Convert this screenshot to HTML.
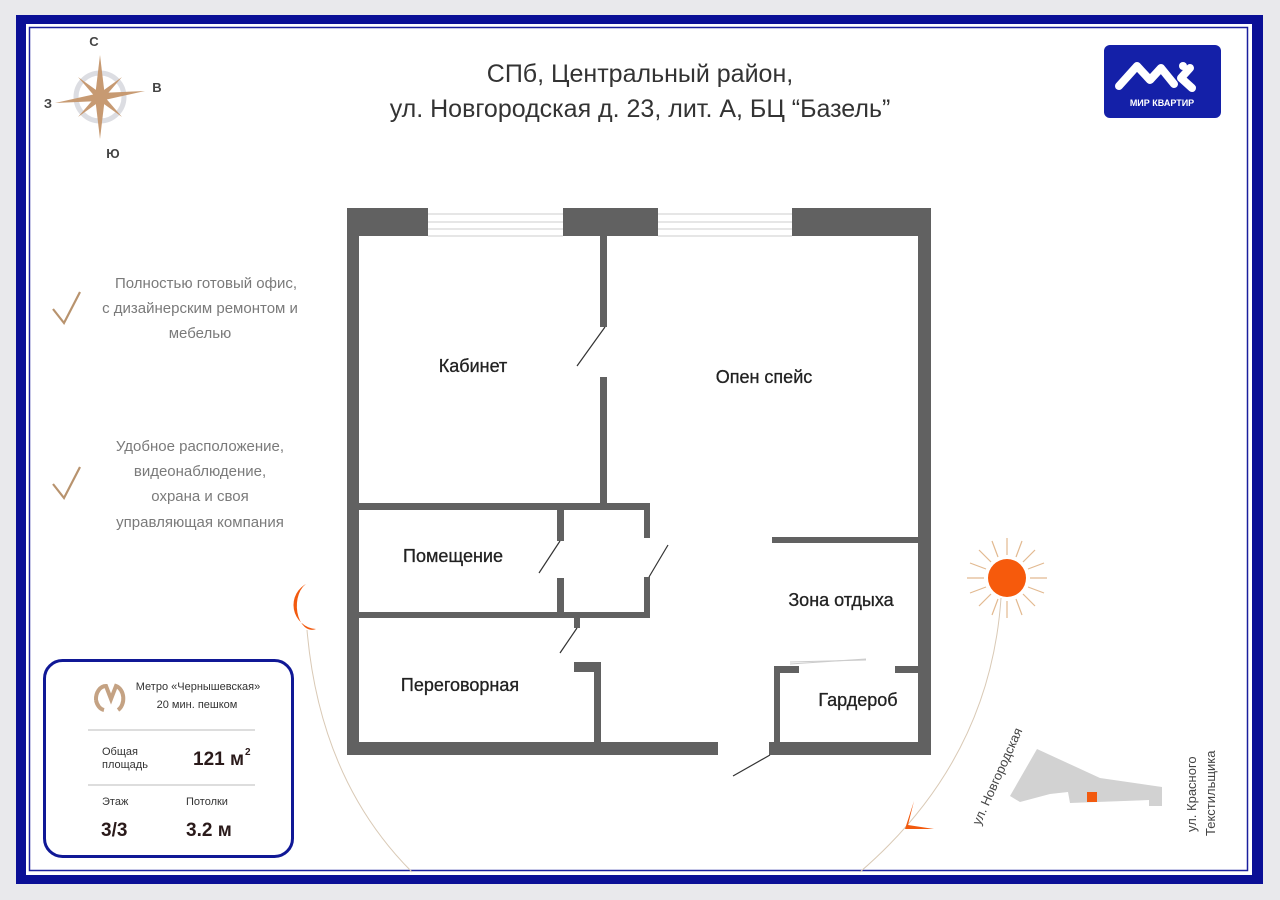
<!DOCTYPE html>
<html><head><meta charset="utf-8"><style>
body{margin:0;width:1280px;height:900px;background:#e9e9ec;position:relative;overflow:hidden;font-family:"Liberation Sans","DejaVu Sans",sans-serif}
</style></head><body>
<svg width="1280" height="900" viewBox="0 0 1280 900" style="position:absolute;left:0;top:0">
<rect x="16" y="15" width="1247" height="869" fill="#0a0f96"/>
<rect x="26" y="24" width="1226" height="851" fill="#fff"/>
<rect x="29.5" y="27.5" width="1218" height="843" fill="none" stroke="#1a1f9e" stroke-width="1.5"/>

<!-- compass -->
<g transform="translate(100,97)">
<circle r="24" fill="none" stroke="#dcdde2" stroke-width="5"/>
<polygon points="0,-42 5,0 0,42 -5,0" fill="#c79a72"/>
<polygon points="-45,6 0,-4 45,-6 0,4" fill="#c79a72"/>
<polygon points="-22,-20 3,-2 22,20 -3,2" fill="#c79a72"/>
<polygon points="22,-20 3,2 -22,20 -3,-2" fill="#c79a72"/>
</g>
<g font-size="13" font-weight="bold" fill="#444" text-anchor="middle">
<text x="94" y="46">С</text><text x="157" y="92">В</text><text x="48" y="108">З</text><text x="113" y="158">Ю</text>
</g>

<!-- title -->
<g font-size="25" fill="#333" text-anchor="middle">
<text x="640" y="82">СПб, Центральный район,</text>
<text x="640" y="117">ул. Новгородская д. 23, лит. А, БЦ “Базель”</text>
</g>

<!-- logo -->
<rect x="1104" y="45" width="117" height="73" rx="6" fill="#1420a8"/>
<path d="M1119 86 L1137 66 L1150 80 L1161 68 L1174 84 M1190 68 L1181 78 L1192 88" stroke="#fff" stroke-width="8" fill="none" stroke-linecap="round" stroke-linejoin="round"/>
<circle cx="1183" cy="66" r="4" fill="#fff"/>
<text x="1162" y="106" font-size="9" font-weight="bold" fill="#fff" text-anchor="middle">МИР КВАРТИР</text>

<!-- left texts -->
<g font-size="15" fill="#7a7a7a" text-anchor="middle">
<text x="206" y="288">Полностью готовый офис,</text>
<text x="200" y="313">с дизайнерским ремонтом и</text>
<text x="200" y="338">мебелью</text>
<text x="200" y="451">Удобное расположение,</text>
<text x="200" y="476">видеонаблюдение,</text>
<text x="200" y="501">охрана и своя</text>
<text x="200" y="527">управляющая компания</text>
</g>
<path d="M53 309 L64 323 L80 292" stroke="#b8936e" stroke-width="2.2" fill="none"/>
<path d="M53 484 L64 498 L80 467" stroke="#b8936e" stroke-width="2.2" fill="none"/>

<!-- moon & arc -->
<path d="M308 583 A24 24 0 0 0 316 629 A14 22 0 0 1 308 583 Z" fill="#f25a0f"/>
<path d="M307 630 Q320 780 412 872" stroke="#d9c9b5" stroke-width="1" fill="none"/>

<!-- sun -->
<g transform="translate(1007,578)" stroke="#e2b990" stroke-width="1.2">
<line x1="0" y1="-23" x2="0" y2="-40"/><line x1="0" y1="23" x2="0" y2="40"/><line x1="-23" y1="0" x2="-40" y2="0"/><line x1="23" y1="0" x2="40" y2="0"/>
<line x1="16" y1="-16" x2="28" y2="-28"/><line x1="-16" y1="-16" x2="-28" y2="-28"/><line x1="16" y1="16" x2="28" y2="28"/><line x1="-16" y1="16" x2="-28" y2="28"/>
<line x1="9" y1="-21" x2="15" y2="-37"/><line x1="-9" y1="-21" x2="-15" y2="-37"/><line x1="9" y1="21" x2="15" y2="37"/><line x1="-9" y1="21" x2="-15" y2="37"/>
<line x1="21" y1="-9" x2="37" y2="-15"/><line x1="-21" y1="-9" x2="-37" y2="-15"/><line x1="21" y1="9" x2="37" y2="15"/><line x1="-21" y1="9" x2="-37" y2="15"/>
</g>
<circle cx="1007" cy="578" r="19" fill="#f65a0c"/>
<path d="M1001 598 Q990 760 860 872" stroke="#d9c9b5" stroke-width="1" fill="none"/>
<path d="M914 801 L905 829 L934 829 L908 825 Z" fill="#f25a0f"/>

<!-- map -->
<polygon points="1037,749 1100,778 1162,787 1162,806 1149,806 1149,800 1070,803 1068,792 1050,794 1020,802 1010,796" fill="#d2d2d2"/>
<rect x="1087" y="792" width="10" height="10" fill="#f25a0f"/>
<text transform="translate(980,826) rotate(-66)" font-size="13" fill="#444">ул. Новгородская</text>
<text transform="translate(1196,832) rotate(-90)" font-size="13" fill="#444">ул. Красного</text>
<text transform="translate(1215,836) rotate(-90)" font-size="13" fill="#444">Текстильщика</text>

<!-- floor plan -->
<g fill="#616161">
<rect x="347" y="208" width="81" height="28"/>
<rect x="563" y="208" width="95" height="28"/>
<rect x="792" y="208" width="139" height="28"/>
<rect x="347" y="208" width="12" height="547"/>
<rect x="918" y="208" width="13" height="547"/>
<rect x="600" y="236" width="7" height="91"/>
<rect x="600" y="377" width="7" height="130"/>
<rect x="359" y="503" width="291" height="7"/>
<rect x="644" y="503" width="6" height="35"/>
<rect x="644" y="577" width="6" height="41"/>
<rect x="557" y="510" width="7" height="31"/>
<rect x="557" y="578" width="7" height="40"/>
<rect x="359" y="612" width="291" height="6"/>
<rect x="574" y="618" width="6" height="10"/>
<rect x="574" y="662" width="27" height="10"/>
<rect x="594" y="662" width="7" height="80"/>
<rect x="347" y="742" width="371" height="13"/>
<rect x="769" y="742" width="162" height="13"/>
<rect x="774" y="666" width="6" height="76"/>
<rect x="774" y="666" width="25" height="7"/>
<rect x="895" y="666" width="23" height="7"/>
<rect x="772" y="537" width="146" height="6"/>
</g>
<g stroke="#ccc" stroke-width="1">
<line x1="428" y1="214" x2="563" y2="214"/><line x1="428" y1="222" x2="563" y2="222"/><line x1="428" y1="229" x2="563" y2="229"/><line x1="428" y1="236" x2="563" y2="236"/>
<line x1="658" y1="214" x2="792" y2="214"/><line x1="658" y1="222" x2="792" y2="222"/><line x1="658" y1="229" x2="792" y2="229"/><line x1="658" y1="236" x2="792" y2="236"/>
<line x1="790" y1="664" x2="866" y2="659"/><line x1="790" y1="662" x2="866" y2="660"/>
</g>
<g stroke="#333" stroke-width="1.2">
<line x1="605" y1="327" x2="577" y2="366"/>
<line x1="560" y1="541" x2="539" y2="573"/>
<line x1="649" y1="577" x2="668" y2="545"/>
<line x1="577" y1="628" x2="560" y2="653"/>
<line x1="770" y1="755" x2="733" y2="776"/>
</g>
<g font-size="18" fill="#222" text-anchor="middle" stroke="#222" stroke-width="0.3">
<text x="473" y="372">Кабинет</text>
<text x="764" y="383">Опен спейс</text>
<text x="453" y="562">Помещение</text>
<text x="841" y="606">Зона отдыха</text>
<text x="460" y="691">Переговорная</text>
<text x="858" y="706">Гардероб</text>
</g>

<!-- card -->
<rect x="44.5" y="660.5" width="248" height="196" rx="18" fill="#fff" stroke="#101896" stroke-width="3"/>
<path d="M96 700 A10 13 0 0 1 106 686 L111 699 L116 686 A10 13 0 0 1 118 710 M96 700 A10 13 0 0 0 104 710" stroke="#c4a283" stroke-width="4" fill="none"/>
<text x="198" y="690" font-size="11" fill="#333" text-anchor="middle">Метро «Чернышевская»</text>
<text x="197" y="708" font-size="11" fill="#333" text-anchor="middle">20 мин. пешком</text>
<line x1="88" y1="730" x2="255" y2="730" stroke="#bbb" stroke-width="1"/>
<text x="102" y="755" font-size="11" fill="#333">Общая</text>
<text x="102" y="768" font-size="11" fill="#333">площадь</text>
<text x="193" y="765" font-size="19" font-weight="bold" fill="#2a1a1a">121 м</text>
<text x="245" y="755" font-size="10" font-weight="bold" fill="#2a1a1a">2</text>
<line x1="88" y1="785" x2="255" y2="785" stroke="#bbb" stroke-width="1"/>
<text x="102" y="805" font-size="11" fill="#333">Этаж</text>
<text x="186" y="805" font-size="11" fill="#333">Потолки</text>
<text x="101" y="836" font-size="19" font-weight="bold" fill="#2a1a1a">3/3</text>
<text x="186" y="836" font-size="19" font-weight="bold" fill="#2a1a1a">3.2 м</text>
</svg>
</body></html>
